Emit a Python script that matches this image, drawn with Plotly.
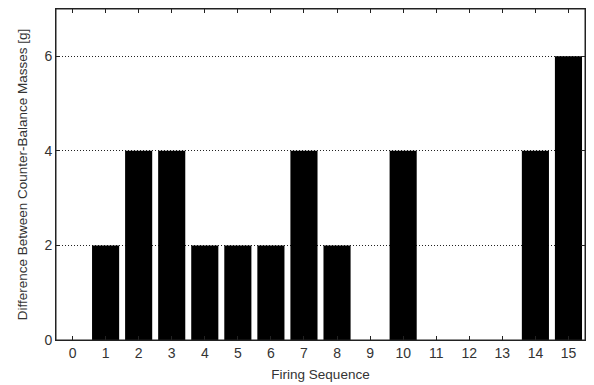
import plotly.graph_objects as go

firing_sequence = list(range(16))
mass_difference = [0, 2, 4, 4, 2, 2, 2, 4, 2, 0, 4, 0, 0, 0, 4, 6]
y_ticks = [0, 2, 4, 6]

fig = go.Figure(go.Bar(
    x=firing_sequence, y=mass_difference,
    marker=dict(color="black", line=dict(width=0)),
    width=0.82,
))

tick_font = dict(family="Liberation Sans, Arial, sans-serif", size=14, color="#333")
title_font = dict(family="Liberation Sans, Arial, sans-serif", size=13.5, color="#333")
fig.update_layout(
    width=594, height=385,
    margin=dict(l=56, r=9, t=9, b=45),
    paper_bgcolor="white", plot_bgcolor="white",
    showlegend=False,
    font=tick_font,
    xaxis=dict(
        range=[-0.5, 15.5], tickmode="array", tickvals=firing_sequence,
        ticktext=[str(v) for v in firing_sequence],
        ticks="inside", ticklen=4, tickcolor="#222",
        showline=True, linecolor="#222", linewidth=1, mirror="ticks",
        showgrid=False, zeroline=False, automargin=False,
        tickfont=tick_font,
        title=dict(text="Firing Sequence", standoff=9, font=title_font),
    ),
    yaxis=dict(
        range=[0, 7], tickmode="array", tickvals=y_ticks,
        ticks="inside", ticklen=4, tickcolor="#222",
        showline=True, linecolor="#222", linewidth=1, mirror="ticks",
        showgrid=True, gridcolor="#222", griddash="1px,2px", gridwidth=1,
        zeroline=False, automargin=False,
        tickfont=tick_font,
        title=dict(text="Difference Between Counter-Balance Masses [g]", standoff=13, font=title_font),
    ),
    shapes=[dict(type="rect", xref="paper", yref="paper", x0=0, y0=0, x1=1, y1=1,
                 line=dict(color="#222", width=1), layer="above")],
)
fig.write_html("out.html", config={"displayModeBar": False},
               post_script="document.body.style.margin='0';")
